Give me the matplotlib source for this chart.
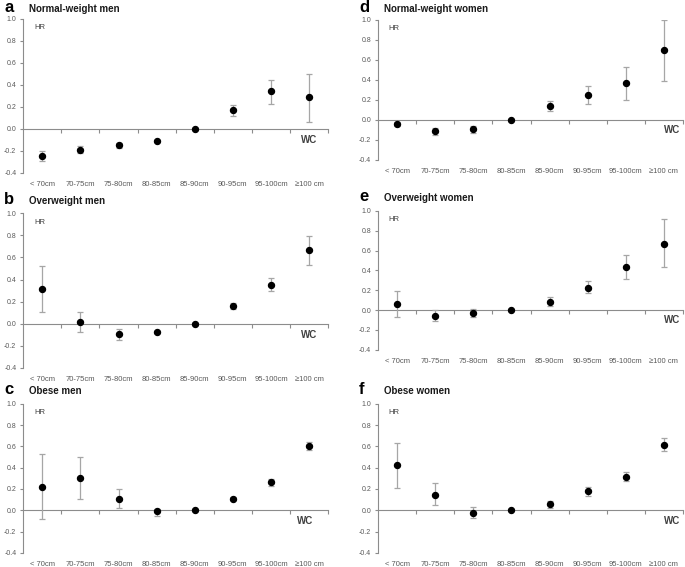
import numpy as np
import matplotlib
matplotlib.use('Agg')
import matplotlib.pyplot as plt
from matplotlib.ticker import MultipleLocator, FixedLocator

plt.rcParams['font.family'] = ['Liberation Sans', 'DejaVu Sans']

categories = ['< 70cm', '70-75cm', '75-80cm', '80-85cm', '85-90cm',
              '90-95cm', '95-100cm', '\u2265100 cm']

# point estimates and lower / upper limits
a_val = [-0.25, -0.19, -0.15, -0.11, 0.0, 0.17, 0.34, 0.285]
a_lo = [-0.29, -0.22, -0.17, -0.12, 0.0, 0.12, 0.23, 0.065]
a_hi = [-0.20, -0.16, -0.13, -0.10, 0.0, 0.22, 0.44, 0.50]

b_val = [0.31, 0.015, -0.095, -0.075, 0.0, 0.16, 0.355, 0.665]
b_lo = [0.105, -0.075, -0.145, -0.085, 0.0, 0.13, 0.30, 0.53]
b_hi = [0.525, 0.11, -0.05, -0.065, 0.0, 0.185, 0.415, 0.79]

c_val = [0.215, 0.30, 0.105, -0.01, 0.0, 0.11, 0.265, 0.605]
c_lo = [-0.085, 0.105, 0.02, -0.05, 0.0, 0.095, 0.23, 0.565]
c_hi = [0.525, 0.50, 0.20, 0.01, 0.0, 0.125, 0.29, 0.64]

d_val = [-0.04, -0.115, -0.095, 0.0, 0.135, 0.25, 0.365, 0.70]
d_lo = [-0.06, -0.15, -0.13, 0.0, 0.085, 0.155, 0.20, 0.39]
d_hi = [-0.02, -0.085, -0.06, 0.0, 0.19, 0.335, 0.525, 1.0]

e_val = [0.065, -0.055, -0.025, 0.0, 0.085, 0.225, 0.43, 0.67]
e_lo = [-0.065, -0.11, -0.065, 0.0, 0.04, 0.17, 0.31, 0.43]
e_hi = [0.19, 0.005, 0.015, 0.0, 0.13, 0.29, 0.555, 0.92]

f_val = [0.425, 0.147, -0.022, 0.0, 0.057, 0.18, 0.315, 0.615]
f_lo = [0.21, 0.05, -0.07, 0.0, 0.02, 0.135, 0.27, 0.555]
f_hi = [0.63, 0.255, 0.03, 0.0, 0.09, 0.22, 0.36, 0.675]

# letter, title, data, axes rect, x of the "WC" label (axes fraction)
panels = [
    ('a', 'Normal-weight men', a_val, a_lo, a_hi,
     [0.034, 0.695, 0.445, 0.272], 0.965),
    ('b', 'Overweight men', b_val, b_lo, b_hi,
     [0.034, 0.351, 0.445, 0.273], 0.965),
    ('c', 'Obese men', c_val, c_lo, c_hi,
     [0.034, 0.025, 0.445, 0.263], 0.95),
    ('d', 'Normal-weight women', d_val, d_lo, d_hi,
     [0.552, 0.718, 0.445, 0.247], 0.99),
    ('e', 'Overweight women', e_val, e_lo, e_hi,
     [0.552, 0.383, 0.445, 0.245], 0.99),
    ('f', 'Obese women', f_val, f_lo, f_hi,
     [0.552, 0.025, 0.445, 0.263], 0.99),
]

axis_col = '#8c8c8c'
text_col = '#595959'

fig = plt.figure(figsize=(6.85, 5.67), dpi=100)

for letter, title, val, lo, hi, rect, wc_x in panels:
    ax = fig.add_axes(rect)
    x = np.arange(len(categories))
    val = np.array(val)
    err = np.vstack([val - np.array(lo), np.array(hi) - val])
    ax.errorbar(x, val, yerr=err, fmt='o', color='black', ms=4.3,
                ecolor='#a6a6a6', elinewidth=0.9, capsize=2, capthick=0.9,
                zorder=3)

    ax.set_xlim(-0.5, 7.5)
    ax.set_ylim(-0.4, 1.0)

    for s in ['top', 'right']:
        ax.spines[s].set_visible(False)
    ax.spines['left'].set_color(axis_col)
    ax.spines['left'].set_linewidth(0.8)
    ax.spines['bottom'].set_position(('data', 0))
    ax.spines['bottom'].set_color(axis_col)
    ax.spines['bottom'].set_linewidth(0.8)

    ax.yaxis.set_major_locator(MultipleLocator(0.2))
    ax.set_yticklabels([f'{v:.1f}' for v in ax.get_yticks()])
    ax.tick_params(axis='y', direction='out', length=2, width=0.8,
                   color=axis_col, labelsize=5, labelcolor=text_col, pad=3)

    # boundary tick marks on the zero line
    ax.xaxis.set_major_locator(FixedLocator(np.arange(0.5, 8, 1.0)))
    ax.tick_params(axis='x', direction='out', length=3, width=0.8,
                   color=axis_col, labelbottom=False)

    # category labels below the plot area
    sec = ax.secondary_xaxis(0.0)
    sec.spines['bottom'].set_visible(False)
    sec.set_xticks(x)
    sec.set_xticklabels(categories)
    sec.tick_params(length=0, labelsize=5.5, labelcolor=text_col, pad=6)

    ax.text(0.035, 0.965, 'HR', transform=ax.transAxes, fontsize=5.5,
            color='#404040', va='top', ha='left')
    ax.text(wc_x, -0.1, 'WC', transform=ax.get_yaxis_transform(),
            fontsize=7, fontweight='bold', color='#404040',
            va='center', ha='right')

    base = min(rect[1] + rect[3] + 0.017, 0.979)
    fig.text(rect[0] - 0.028, base, letter,
             fontsize=12, fontweight='bold', va='baseline', ha='left')
    fig.text(rect[0] + 0.008, base, title,
             fontsize=7, fontweight='bold', color='#1a1a1a',
             va='baseline', ha='left')

fig.savefig('out.png', dpi=100)
